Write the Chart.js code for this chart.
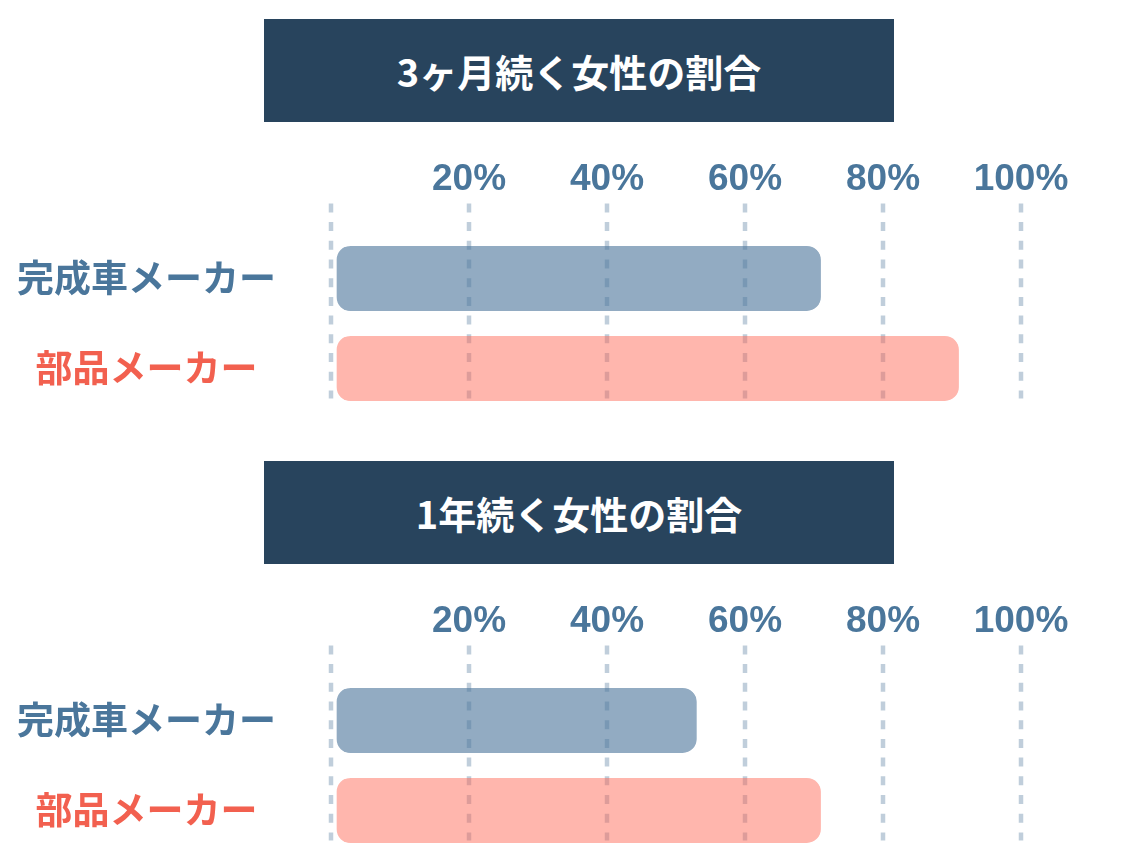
<!DOCTYPE html>
<html lang="ja">
<head>
<meta charset="utf-8">
<script src="https://cdn.jsdelivr.net/npm/chart.js@4.4.0/dist/chart.umd.min.js"></script>
<style>
  body { margin: 0; width: 1135px; height: 856px; background: #fff; position: relative; overflow: hidden; }
  .title {
    position: absolute; left: 264px; width: 630px; height: 103px;
    background: #28445d; color: #fff;
    font-family: "Noto Sans CJK JP", sans-serif; font-weight: bold; font-size: 38px;
    display: flex; align-items: center; justify-content: center;
  }
  canvas { position: absolute; left: 0; display: block; }
</style>
</head>
<body>
<div class="title" id="title1" style="top:19px"></div>
<canvas id="chart1" width="1135" height="274" style="top:140px"></canvas>
<div class="title" id="title2" style="top:461px"></div>
<canvas id="chart2" width="1135" height="274" style="top:582px"></canvas>

<script>
// data
const titles = ['3ヶ月続く女性の割合', '1年続く女性の割合'];
const categories = ['完成車メーカー', '部品メーカー'];
const threeMonthValues = [71, 91];
const oneYearValues = [53, 71];
const tickStep = 20;

const labelColors = ['#4a769b', '#f2604f'];
const barColors = ['rgba(74, 115, 153, 0.6)', 'rgba(255, 100, 80, 0.47)'];

// dashed vertical lines at each x tick, a bit taller than the bars area
const dashGrid = {
    id: 'dashGrid',
    beforeDatasetsDraw(chart, args, opts) {
        const { ctx, chartArea, scales: { x } } = chart;
        ctx.save();
        ctx.strokeStyle = opts.color;
        ctx.lineWidth = opts.width;
        ctx.setLineDash(opts.dash);
        x.ticks.forEach(t => {
            const px = x.getPixelForValue(t.value);
            ctx.beginPath();
            ctx.moveTo(px, chartArea.top - opts.above);
            ctx.lineTo(px, chartArea.bottom - opts.below);
            ctx.stroke();
        });
        ctx.restore();
    }
};

function makeChart(id, values) {
    const ctx = document.getElementById(id).getContext('2d');
    return new Chart(ctx, {
        type: 'bar',
        data: {
            labels: categories,
            datasets: [{
                data: values,
                backgroundColor: barColors,
                borderColor: 'rgba(0, 0, 0, 0)',
                borderWidth: { left: 6, top: 0, right: 0, bottom: 0 },
                borderSkipped: false,
                borderRadius: { topLeft: 20, bottomLeft: 20, topRight: 14, bottomRight: 14 },
                barThickness: 65
            }]
        },
        options: {
            indexAxis: 'y',
            responsive: false,
            devicePixelRatio: 1,
            animation: false,
            layout: { padding: { top: 19.4, bottom: 0.6, left: 0, right: 114 } },
            plugins: {
                legend: { display: false },
                tooltip: { enabled: false },
                dashGrid: { color: 'rgba(74, 115, 153, 0.35)', width: 4.5, dash: [9, 9.7], above: 30, below: 15 }
            },
            scales: {
                x: {
                    position: 'top',
                    min: 0,
                    max: 100,
                    grid: { display: false },
                    border: { display: false },
                    afterFit: (axis) => { axis.height = 74; },
                    ticks: {
                        stepSize: tickStep,
                        padding: 27,
                        color: labelColors[0],
                        font: { family: '"Liberation Sans", Arial, sans-serif', size: 37, weight: 'bold', lineHeight: 1 },
                        callback: (v) => v === 0 ? '' : v + '%'
                    }
                },
                y: {
                    grid: { display: false },
                    border: { display: false },
                    afterFit: (axis) => {
                        axis.width = 331;
                        axis.paddingTop = 0;
                        axis.paddingBottom = 0;
                    },
                    ticks: {
                        crossAlign: 'center',
                        padding: 47,
                        color: (c) => labelColors[c.index],
                        font: { family: '"Noto Sans CJK JP", sans-serif', size: 37, weight: 'bold' }
                    }
                }
            }
        },
        plugins: [dashGrid]
    });
}

document.getElementById('title1').textContent = titles[0];
document.getElementById('title2').textContent = titles[1];
makeChart('chart1', threeMonthValues);
makeChart('chart2', oneYearValues);
</script>
</body>
</html>
